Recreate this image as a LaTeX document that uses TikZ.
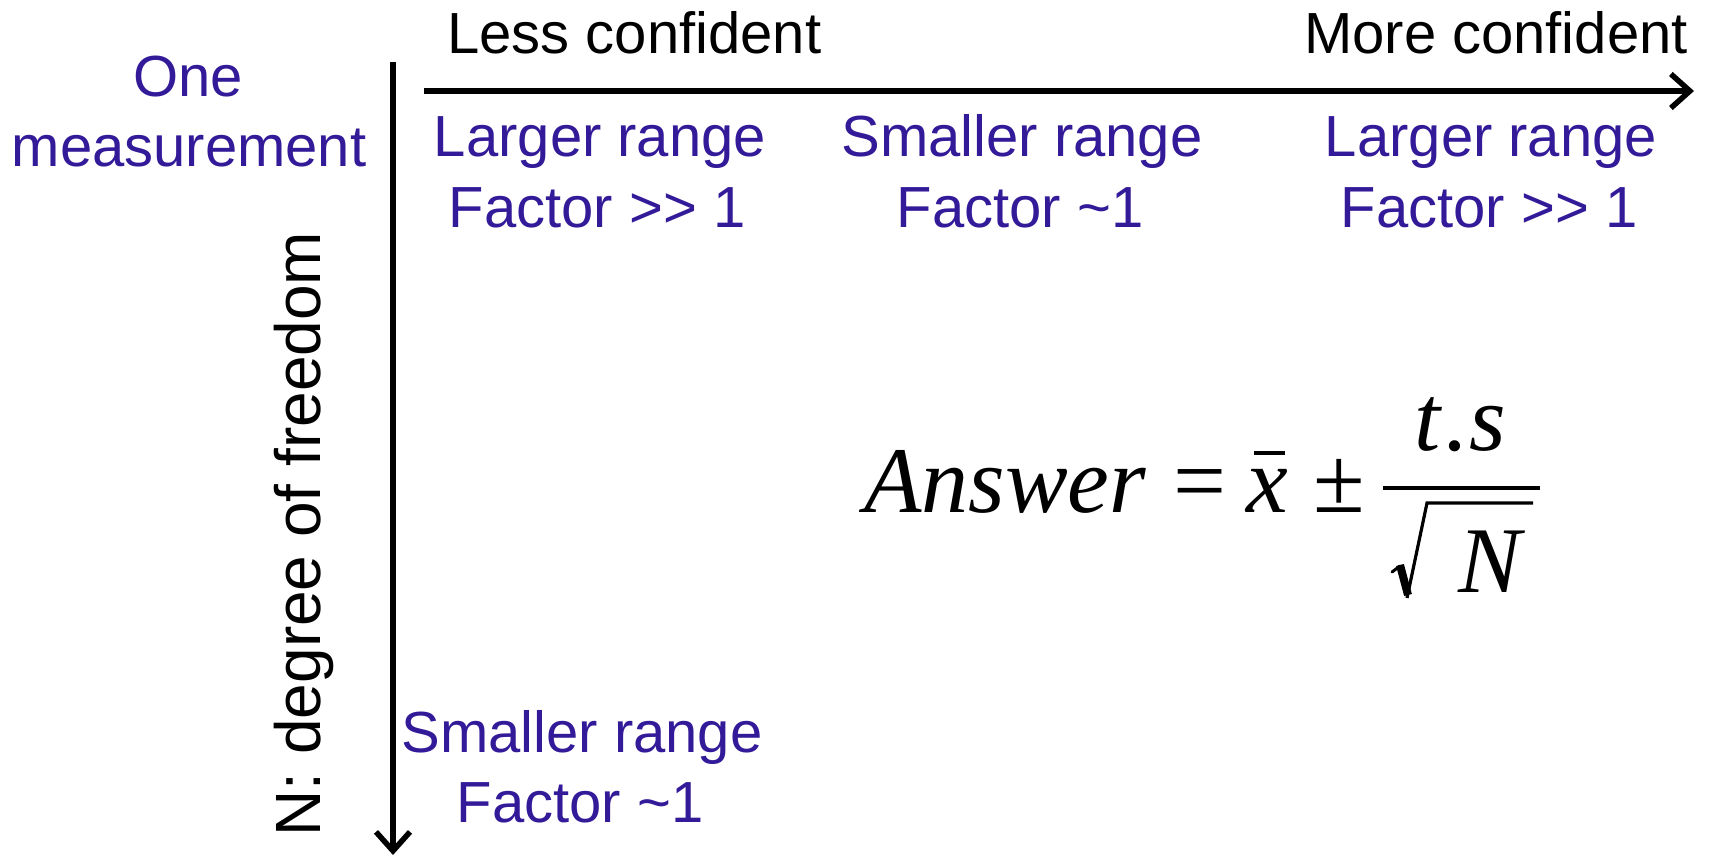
\documentclass[tikz,border=0pt]{standalone}
\usepackage{fontspec}
\setmainfont{Liberation Sans}
\newfontfamily\tms{Liberation Serif}
\usetikzlibrary{arrows.meta}
\definecolor{dblue}{RGB}{51,26,153}
\tikzset{
  lbl/.style={inner sep=0pt, anchor=base, font=\fontsize{58}{70}\selectfont},
  blbl/.style={lbl, text=dblue},
  fml/.style={inner sep=0pt, anchor=base, font=\fontsize{94}{110}\selectfont\tms},
  axis/.style={line width=5.5pt, -{Straight Barb[length=19pt,width=34pt]}},
  rule/.style={line width=4pt}
}
\begin{document}
\begin{tikzpicture}[x=1pt,y=-1pt]
\useasboundingbox (0,0) rectangle (1711,856);
% axes
\coordinate (hs) at (424,91);
\coordinate (he) at (1694,91);
\coordinate (vs) at (393,62);
\coordinate (ve) at (393,855);
\draw[axis] (hs) -- (he);
\draw[axis] (vs) -- (ve);
% top labels
\node[lbl, anchor=base west] (less) at (447,54) {Less confident};
\node[lbl, anchor=base east] (more) at (1688,54) {More confident};
% left label
\node[blbl] (one) at (188,97) {One};
\node[blbl] (meas) at (189,167) {measurement};
% column labels
\node[blbl] (c1a) at (600,157) {Larger range};
\node[blbl] (c1b) at (597,227) {Factor >{}> 1};
\node[blbl] (c2a) at (1022,157) {Smaller range};
\node[blbl] (c2b) at (1020,227) {Factor \char`\~1};
\node[blbl] (c3a) at (1491,157) {Larger range};
\node[blbl] (c3b) at (1489,227) {Factor >{}> 1};
% bottom labels
\node[blbl] (r1a) at (582,752) {Smaller range};
\node[blbl] (r1b) at (580,822) {Factor \char`\~1};
% vertical axis label
\node[inner sep=0pt, anchor=base, rotate=90, font=\fontsize{64}{70}\selectfont] (dof) at (320,534) {N: degree of freedom};
% formula
\node[fml, anchor=base west] (ans) at (864,512) {\itshape Answer};
\node[fml] (eq) at (1200,512) {=};
\node[fml] (xb) at (1267,512) {\itshape x};
\draw[rule] (1254,453) -- (1285,453);
\node[fml] (pm) at (1339,512) {±};
\node[fml] (ts) at (1460,450) {\itshape t\kern5pt.s};
\coordinate (fbl) at (1383,488);
\coordinate (fbr) at (1540,488);
\draw[rule] (fbl) -- (fbr);
\draw[line width=3pt, line cap=round] (1392,572) -- (1400,566);
\draw[line width=8pt] (1400,565) -- (1408,595);
\draw[line width=3.2pt, line join=miter] (1407,598) -- (1427,503) -- (1533,503);
\node[fml] (nn) at (1490,592) {\itshape N};
\end{tikzpicture}
\end{document}
